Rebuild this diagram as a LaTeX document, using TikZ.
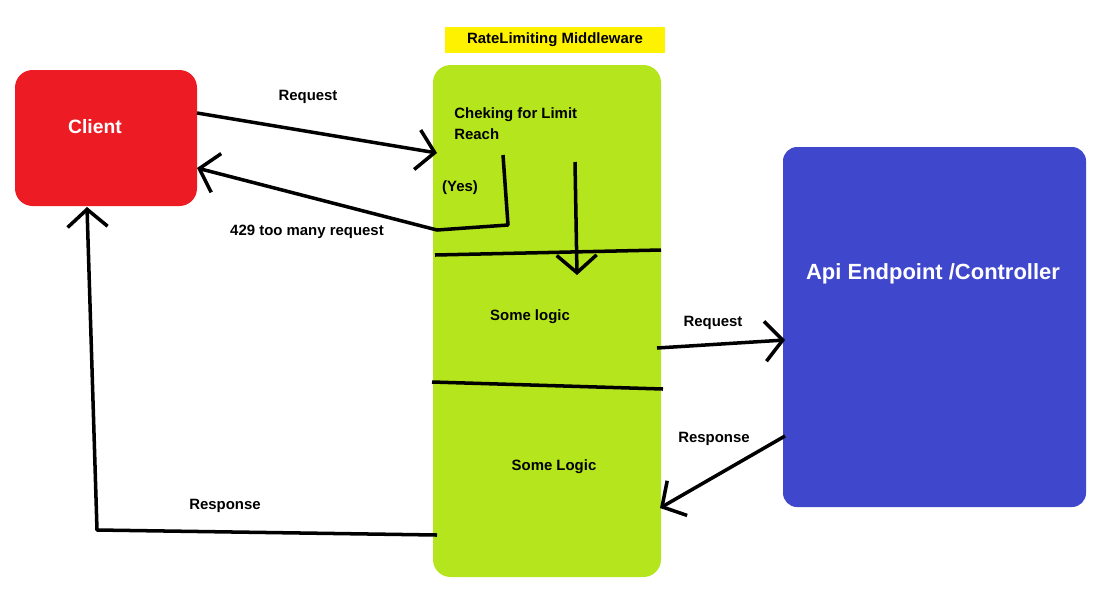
\documentclass[tikz,border=0pt]{standalone}
\usepackage{fontspec}
\setmainfont{Liberation Sans}
\usetikzlibrary{arrows.meta}
\definecolor{clientred}{HTML}{ED1C24}
\definecolor{mwgreen}{HTML}{B5E61D}
\definecolor{apiblue}{HTML}{3F48CC}
\definecolor{tagyellow}{HTML}{FFF200}
\tikzset{
  wire/.style={line width=2pt,line join=round},
  hand/.style={wire,-{Straight Barb[length=3.5mm,width=8mm,line width=2pt]}},
  lbl/.style={font=\bfseries\fontsize{8.5}{10}\selectfont,inner sep=0pt},
}
\begin{document}
\begin{tikzpicture}[x=0.02cm,y=-0.02cm]
\useasboundingbox[fill=white](0,0) rectangle (1094,606);
% boxes
\fill[clientred,rounded corners=10pt](15,70) rectangle (197,206);
\node[font=\bfseries\fontsize{11}{13}\selectfont,text=white] (client) at (95,127) {Client};
\fill[mwgreen,rounded corners=10pt](433,65) rectangle (661,577);
\node[fill=tagyellow,lbl,minimum width=4.4cm,minimum height=0.52cm] (tag) at (555,40) {RateLimiting Middleware};
\fill[apiblue,rounded corners=8pt](783,147) rectangle (1086,507);
\node[font=\bfseries\fontsize{12.5}{15}\selectfont,text=white] (api) at (933,274) {Api Endpoint /Controller};
% texts
\node[lbl,align=left,anchor=north west] (check) at (454,107) {Cheking for Limit\\[2pt]Reach};
\node[lbl] (yes) at (460,188) {(Yes)};
\node[lbl] (tooMany) at (307,232) {429 too many request};
\node[lbl] (req1) at (308,97) {Request};
\node[lbl] (logic1) at (530,317) {Some logic};
\node[lbl] (logic2) at (554,467) {Some Logic};
\node[lbl] (req2) at (713,323) {Request};
\node[lbl] (resp2) at (714,439) {Response};
\node[lbl] (resp1) at (225,506) {Response};
% points
\coordinate (c1) at (197,113); \coordinate (m1) at (437,153);
\coordinate (y1) at (503,155); \coordinate (y2) at (508,225);
\coordinate (y3) at (437,230); \coordinate (c2) at (197,168);
\coordinate (d1) at (575,162); \coordinate (d2) at (577,275);
\coordinate (s1) at (435,255); \coordinate (s2) at (661,250);
\coordinate (s3) at (432,382); \coordinate (s4) at (663,389);
\coordinate (m2) at (657,348); \coordinate (a1) at (785,340);
\coordinate (a2) at (785,436); \coordinate (m3) at (660,508);
\coordinate (m4) at (437,535); \coordinate (r1) at (97,530);
\coordinate (c3) at (87,207);
% connectors
\draw[hand](c1)--(m1);
\draw[hand](y1)--(y2)--(y3)--(c2);
\draw[hand](d1)--(d2);
\draw[wire](s1)--(s2);
\draw[wire](s3)--(s4);
\draw[hand](m2)--(a1);
\draw[hand](a2)--(m3);
\draw[hand](m4)--(r1)--(c3);
\end{tikzpicture}
\end{document}
